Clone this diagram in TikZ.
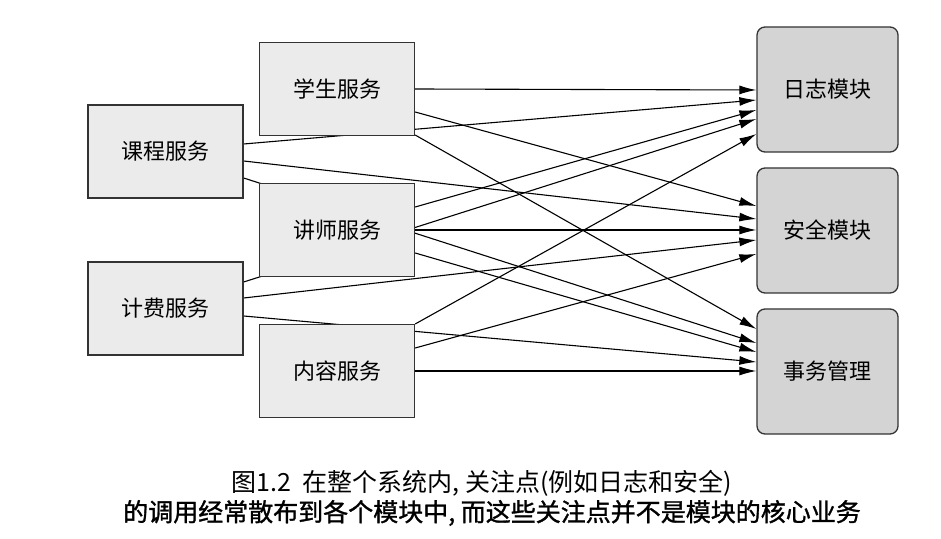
\documentclass[tikz,border=0pt]{standalone}
\usepackage{fontspec}
\setmainfont{Noto Sans CJK SC}
\newfontfamily\capbold[FakeBold=1.2]{Noto Sans CJK SC}
\usetikzlibrary{arrows.meta}
\pgfdeclarelayer{bg}\pgfsetlayers{bg,main}
\begin{document}
\begin{tikzpicture}[x=1pt,y=1pt,
  svc/.style={draw=black!80,line width=1.3pt,fill=black!8,minimum width=155pt,minimum height=93pt,font=\fontsize{22}{22}\selectfont,inner sep=0pt},
  mod/.style={draw=black!80,line width=1.3pt,fill=black!17,rounded corners=8pt,minimum width=141pt,minimum height=125pt,font=\fontsize{22}{22}\selectfont,inner sep=0pt},
  arr/.style={line width=1.1pt,-{Latex[length=17pt,width=9pt]}}]
\useasboundingbox (0,0) rectangle (941,538);
\node[svc] (kc) at (165.5,386.5) {课程服务};
\node[svc] (jf) at (165.5,229.5) {计费服务};
\node[svc] (xs) at (337,449) {学生服务};
\node[svc] (js) at (337,308) {讲师服务};
\node[svc] (nr) at (337,167) {内容服务};
\node[mod] (rz) at (827.5,448.5) {日志模块};
\node[mod] (aq) at (827.5,307.5) {安全模块};
\node[mod] (sw) at (827.5,166.5) {事务管理};
\newcommand\arrto[4]{\draw[arr] ([yshift=#2pt]#1.east) -- ([yshift=#4pt]#3.west);}
\begin{pgfonlayer}{bg}
\arrto{xs}{0}{rz}{-0.5}\arrto{xs}{-23}{aq}{24.5}\arrto{xs}{-46}{sw}{42.5}
\arrto{kc}{7.5}{rz}{-10.5}\arrto{kc}{-9.5}{aq}{11.5}\arrto{kc}{-26.5}{sw}{28.5}
\arrto{js}{23}{rz}{-20.5}\arrto{js}{0}{aq}{0.5}\arrto{js}{-23}{sw}{19.5}
\arrto{jf}{26.5}{rz}{-29.5}\arrto{jf}{10.5}{aq}{-9.5}\arrto{jf}{-7.5}{sw}{9.5}
\arrto{nr}{47}{rz}{-44.5}\arrto{nr}{23}{aq}{-23.5}\arrto{nr}{0}{sw}{0.5}
\end{pgfonlayer}
\node[font=\fontsize{25}{25}\selectfont] (c1) at (482,55) {图1.2\ \ 在整个系统内, 关注点(例如日志和安全)};
\node[font=\capbold\fontsize{25}{25}\selectfont] (c2) at (492,25) {的调用经常散布到各个模块中, 而这些关注点并不是模块的核心业务};
\end{tikzpicture}
\end{document}
